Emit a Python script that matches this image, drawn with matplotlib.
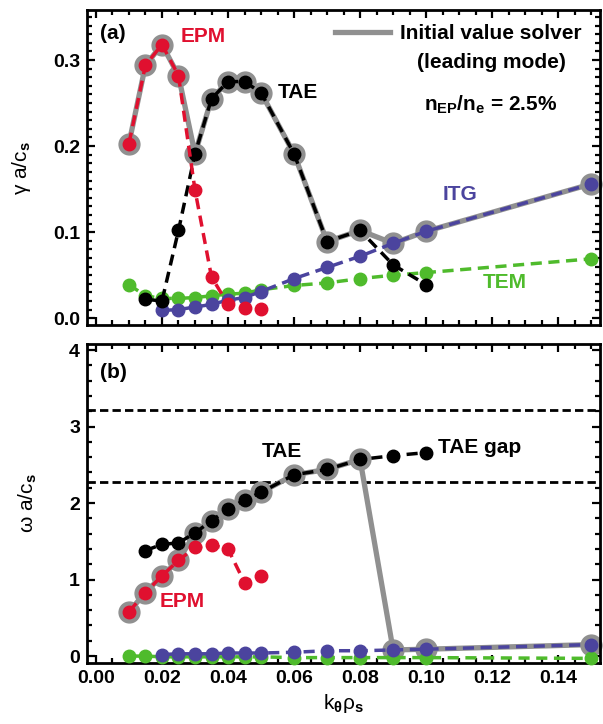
import numpy as np
import matplotlib
matplotlib.use("Agg")
import matplotlib.pyplot as plt
from matplotlib.ticker import MultipleLocator, FormatStrFormatter

plt.rcParams['font.family'] = ['Liberation Sans', 'DejaVu Sans']
plt.rcParams['font.weight'] = 'bold'
plt.rcParams['mathtext.fontset'] = 'custom'
plt.rcParams['mathtext.rm'] = 'Liberation Sans:bold'
plt.rcParams['mathtext.it'] = 'Liberation Sans:bold'
plt.rcParams['mathtext.bf'] = 'Liberation Sans:bold'

# k_theta rho_s grid for each branch
k_epm = [0.01, 0.015, 0.02, 0.025, 0.03, 0.035, 0.04, 0.045, 0.05]
k_tae = [0.015, 0.02, 0.025, 0.03, 0.035, 0.04, 0.045, 0.05, 0.06, 0.07, 0.08, 0.09, 0.10]
k_itg = [0.02, 0.025, 0.03, 0.035, 0.04, 0.045, 0.05, 0.06, 0.07, 0.08, 0.09, 0.10, 0.15]
k_tem = [0.01, 0.015, 0.02, 0.025, 0.03, 0.035, 0.04, 0.045, 0.05, 0.06, 0.07, 0.08, 0.09, 0.10, 0.15]

# growth rates gamma a/c_s
gam_epm = [0.203, 0.294, 0.318, 0.282, 0.149, 0.048, 0.016, 0.012, 0.011]
gam_tae = [0.022, 0.020, 0.102, 0.191, 0.255, 0.275, 0.275, 0.262, 0.191, 0.089, 0.102, 0.062, 0.039]
gam_itg = [0.009, 0.010, 0.013, 0.016, 0.021, 0.024, 0.031, 0.046, 0.059, 0.072, 0.087, 0.101, 0.156]
gam_tem = [0.039, 0.026, 0.023, 0.023, 0.024, 0.026, 0.028, 0.029, 0.033, 0.038, 0.041, 0.046,
           0.050, 0.053, 0.069]

# real frequencies omega a/c_s
om_epm = [0.58, 0.83, 1.05, 1.25, 1.42, 1.45, 1.40, 0.96, 1.05]
om_tae = [1.38, 1.46, 1.48, 1.61, 1.77, 1.92, 2.04, 2.14, 2.37, 2.44, 2.57, 2.62, 2.66]
om_itg = [0.02, 0.03, 0.03, 0.03, 0.04, 0.04, 0.04, 0.05, 0.07, 0.07, 0.08, 0.09, 0.15]
om_tem = [0.0, 0.0, -0.01, -0.01, -0.01, -0.01, -0.01, -0.01, -0.01, -0.02, -0.02, -0.02,
          -0.02, -0.02, -0.03]

# TAE gap boundaries
gap_lo, gap_hi = 2.27, 3.22

# leading mode from the initial value solver: EPM -> TAE -> ITG
lead_epm = slice(0, 4)
lead_tae = slice(3, 11)
lead_itg = slice(10, 13)

RED = '#e0102f'
BLUE = '#4b449e'
GREEN = '#4fbb2c'
GRAY = '#909090'
FS = 15


def lead_curve(ke, ve, kt, vt, ki, vi):
    k = list(ke[lead_epm]) + list(kt[lead_tae]) + list(ki[lead_itg])
    v = list(ve[lead_epm]) + list(vt[lead_tae]) + list(vi[lead_itg])
    return k, v


def draw_panel(ax, ve, vt, vi, vm):
    k, v = lead_curve(k_epm, ve, k_tae, vt, k_itg, vi)
    ax.plot(k, v, color=GRAY, lw=3.8, marker='o', ms=15, mfc=GRAY, mec=GRAY,
            zorder=2, clip_on=False)
    for kk, vv, c in [(k_tem, vm, GREEN), (k_itg, vi, BLUE),
                      (k_tae, vt, 'black'), (k_epm, ve, RED)]:
        ax.plot(kk, vv, color=c, lw=2.5, dashes=(3.2, 1.9), marker='o', ms=9,
                mfc=c, mec=c, zorder=3, clip_on=False)


def style_axes(ax, ymaj, ymin):
    ax.set_xlim(-0.0027, 0.1527)
    ax.xaxis.set_major_locator(MultipleLocator(0.02))
    ax.xaxis.set_minor_locator(MultipleLocator(0.005))
    ax.yaxis.set_major_locator(MultipleLocator(ymaj))
    ax.yaxis.set_minor_locator(MultipleLocator(ymin))
    ax.tick_params(which='both', direction='in', top=True, right=True, width=1.6,
                   labelsize=14, pad=5)
    ax.tick_params(which='major', length=6)
    ax.tick_params(which='minor', length=3.5)
    for s in ax.spines.values():
        s.set_linewidth(2.0)


fig = plt.figure(figsize=(6.03, 7.24), dpi=100)
ax1 = fig.add_axes([0.1443, 0.551, 0.851, 0.435])
ax2 = fig.add_axes([0.1443, 0.0843, 0.851, 0.4406])

# (a) growth rate
draw_panel(ax1, gam_epm, gam_tae, gam_itg, gam_tem)
style_axes(ax1, 0.1, 0.01)
ax1.set_ylim(-0.008, 0.358)
ax1.yaxis.set_major_formatter(FormatStrFormatter('%.1f'))
ax1.tick_params(labelbottom=False)
ax1.set_ylabel('γ a/c$_\\mathrm{s}$', fontsize=FS, labelpad=14)

ax1.text(0.0052, 0.331, '(a)', fontsize=FS, ha='center', va='center')
ax1.text(0.0324, 0.327, 'EPM', fontsize=FS, color=RED, ha='center', va='center')
ax1.text(0.0612, 0.262, 'TAE', fontsize=FS, ha='center', va='center')
ax1.text(0.1103, 0.144, 'ITG', fontsize=FS, color=BLUE, ha='center', va='center')
ax1.text(0.1239, 0.041, 'TEM', fontsize=FS, color=GREEN, ha='center', va='center')
ax1.plot([0.0724, 0.0891], [0.333, 0.333], color=GRAY, lw=3.8)
ax1.text(0.1197, 0.331, 'Initial value solver', fontsize=FS, ha='center', va='center')
ax1.text(0.1197, 0.297, '(leading mode)', fontsize=FS, ha='center', va='center')
ax1.text(0.1194, 0.248, 'n$_\\mathrm{EP}$/n$_\\mathrm{e}$ = 2.5%', fontsize=FS,
         ha='center', va='center')

# (b) real frequency
for g in (gap_lo, gap_hi):
    ax2.axhline(g, color='black', lw=2.0, dashes=(3.0, 1.5), zorder=1)
draw_panel(ax2, om_epm, om_tae, om_itg, om_tem)
style_axes(ax2, 1, 0.2)
ax2.set_ylim(-0.09, 4.08)
ax2.xaxis.set_major_formatter(FormatStrFormatter('%.2f'))
ax2.set_ylabel('ω a/c$_\\mathrm{s}$', fontsize=FS, labelpad=22)
ax2.set_xlabel('k$_\\mathrm{θ}$ρ$_\\mathrm{s}$', fontsize=FS, labelpad=4)

ax2.text(0.0052, 3.71, '(b)', fontsize=FS, ha='center', va='center')
ax2.text(0.0564, 2.68, 'TAE', fontsize=FS, ha='center', va='center')
ax2.text(0.1036, 2.73, 'TAE gap', fontsize=FS, ha='left', va='center')
ax2.text(0.0261, 0.71, 'EPM', fontsize=FS, color=RED, ha='center', va='center')

fig.savefig('out.png', dpi=100)
